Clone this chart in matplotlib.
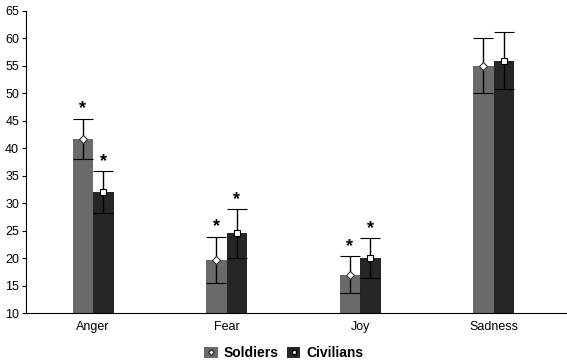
import matplotlib
matplotlib.use("Agg")
import matplotlib.pyplot as plt
from matplotlib.patches import Patch
from matplotlib.lines import Line2D
from matplotlib.legend_handler import HandlerTuple
import numpy as np

categories = ["Anger", "Fear", "Joy", "Sadness"]
soldiers = [41.7, 19.7, 17.0, 55.0]
soldiers_err = [3.7, 4.2, 3.4, 5.0]
civilians = [32.1, 24.5, 20.0, 55.9]
civilians_err = [3.8, 4.4, 3.6, 5.2]
significant = [True, True, True, False]
yticks = [10, 15, 20, 25, 30, 35, 40, 45, 50, 55, 60, 65]

plt.rcParams['font.family'] = ['Liberation Sans', 'DejaVu Sans']

fig = plt.figure(figsize=(5.67, 3.64), dpi=100)
ax = fig.add_axes([0.046, 0.14, 0.954, 0.83])

x = np.arange(len(categories))
w = 0.154
c_sol = "#6a6a6a"
c_civ = "#262626"

ax.bar(x - w/2, np.array(soldiers) - 10, w, bottom=10, color=c_sol, zorder=2)
ax.bar(x + w/2, np.array(civilians) - 10, w, bottom=10, color=c_civ, zorder=2)
ax.errorbar(x - w/2, soldiers, yerr=soldiers_err, fmt='D', color='black', mfc='white',
            mec='#333333', ms=4, mew=0.8, ecolor='black', elinewidth=1, capsize=7, capthick=1, zorder=3)
ax.errorbar(x + w/2, civilians, yerr=civilians_err, fmt='s', color='black', mfc='white',
            mec='black', ms=4.5, mew=0.8, ecolor='black', elinewidth=1, capsize=7, capthick=1, zorder=3)

for i, sig in enumerate(significant):
    if sig:
        ax.text(x[i] - w/2, soldiers[i] + soldiers_err[i] + 0.2, "*", ha='center', va='bottom',
                fontsize=13, fontweight='bold')
        ax.text(x[i] + w/2, civilians[i] + civilians_err[i] + 0.2, "*", ha='center', va='bottom',
                fontsize=13, fontweight='bold')

ax.set_xlim(-0.502, 3.55)
ax.set_ylim(10, 65)
ax.set_yticks(yticks)
ax.set_xticks(x)
ax.set_xticklabels(categories, fontsize=9)
ax.tick_params(axis='x', length=0, pad=6)
ax.tick_params(axis='y', labelsize=9, length=3, pad=2)
ax.spines['top'].set_visible(False)
ax.spines['right'].set_visible(False)

h1 = (Patch(facecolor=c_sol), Line2D([], [], marker='D', ls='', mfc='white', mec='#333333', ms=3))
h2 = (Patch(facecolor=c_civ), Line2D([], [], marker='s', ls='', mfc='white', mec='black', ms=3))
fig.legend([h1, h2], ["Soldiers", "Civilians"], handler_map={tuple: HandlerTuple(ndivide=1)},
           loc='center', bbox_to_anchor=(0.5, 0.03), ncol=2, frameon=False,
           prop={'weight': 'bold', 'size': 10}, handlelength=1.0, handleheight=0.8,
           handletextpad=0.4, columnspacing=0.6)

fig.savefig("out.png", dpi=100)
